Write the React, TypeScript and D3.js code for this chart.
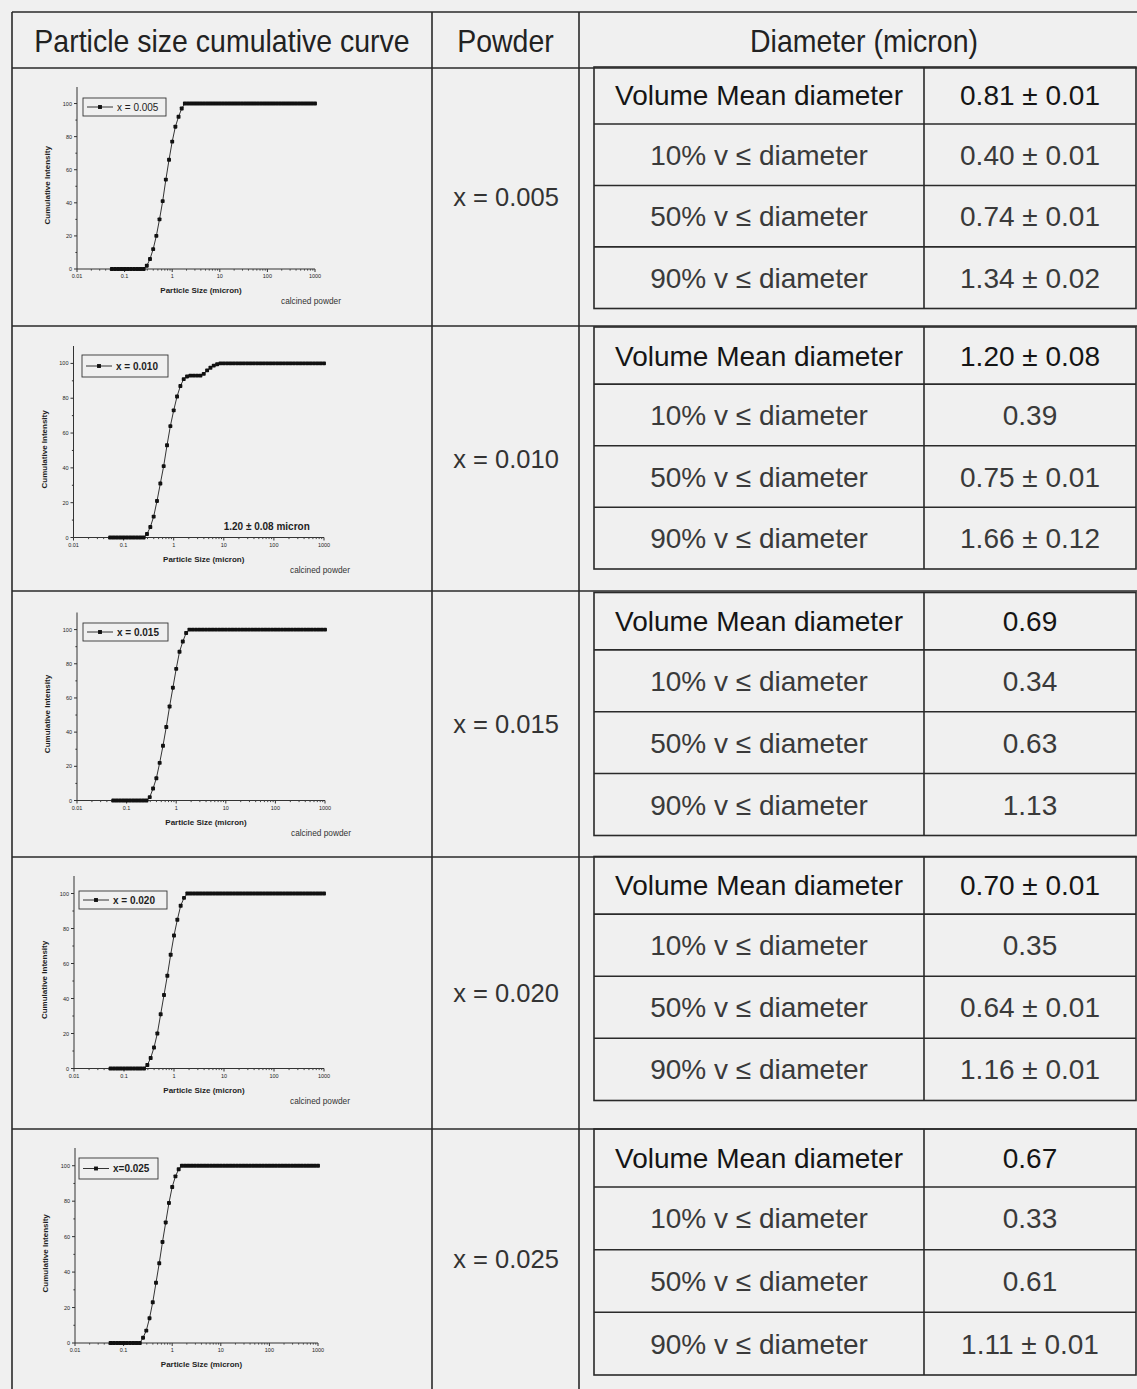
import React from "react";
import * as d3 from "d3";

const W = 1137;
const H = 1389;
const FONT = "'Liberation Sans', Arial, Helvetica, sans-serif";

// table text
const headerLabels = ["Particle size cumulative curve", "Powder", "Diameter (micron)"];
const powders = ["x = 0.005", "x = 0.010", "x = 0.015", "x = 0.020", "x = 0.025"];
const legendLabels = ["x = 0.005", "x = 0.010", "x = 0.015", "x = 0.020", "x=0.025"];
const measures = ["Volume Mean diameter", "10% v \u2264 diameter", "50% v \u2264 diameter", "90% v \u2264 diameter"];
const diam005 = ["0.81 \u00b1 0.01", "0.40 \u00b1 0.01", "0.74 \u00b1 0.01", "1.34 \u00b1 0.02"];
const diam010 = ["1.20 \u00b1 0.08", "0.39", "0.75 \u00b1 0.01", "1.66 \u00b1 0.12"];
const diam015 = ["0.69", "0.34", "0.63", "1.13"];
const diam020 = ["0.70 \u00b1 0.01", "0.35", "0.64 \u00b1 0.01", "1.16 \u00b1 0.01"];
const diam025 = ["0.67", "0.33", "0.61", "1.11 \u00b1 0.01"];

// chart ticks and labels
const xTickValues = [0.01, 0.1, 1, 10, 100, 1000];
const xTickLabels = ["0.01", "0.1", "1", "10", "100", "1000"];
const yTickValues = [0, 20, 40, 60, 80, 100];
const yMinorValues = [10, 30, 50, 70, 90];
const xTitle = "Particle Size (micron)";
const yTitle = "Cumulative Intensity";
const sampleNote = "calcined powder";
const meanNote = "1.20 \u00b1 0.08 micron";

// particle size bins (micron)
const particleSize = [
  0.0541, 0.0631, 0.0736, 0.0858, 0.1, 0.1166, 0.1359, 0.1585, 0.1848, 0.2154, 0.2512,
  0.2929, 0.3415, 0.3981, 0.4642, 0.5412, 0.631, 0.7356, 0.8577,
  1, 1.166, 1.359, 1.585, 1.848, 2.154, 2.512, 2.929, 3.415, 3.981, 4.642, 5.412, 6.31, 7.356, 8.577,
  10, 11.66, 13.59, 15.85, 18.48, 21.54, 25.12, 29.29, 34.15, 39.81, 46.42, 54.12, 63.1, 73.56, 85.77,
  100, 116.6, 135.9, 158.5, 184.8, 215.4, 251.2, 292.9, 341.5, 398.1, 464.2, 541.2, 631, 735.6, 857.7,
  1000,
];

const cum005 = [
  0, 0, 0, 0, 0, 0, 0, 0, 0, 0, 0,
  2, 6, 12, 20, 30, 41, 54, 66, 77, 86, 92, 97,
  100, 100, 100, 100, 100, 100, 100, 100, 100, 100,
  100, 100, 100, 100, 100, 100, 100, 100, 100, 100,
  100, 100, 100, 100, 100, 100, 100, 100, 100, 100,
  100, 100, 100, 100, 100, 100, 100, 100, 100, 100,
  100, 100,
];
const cum010 = [
  0, 0, 0, 0, 0, 0, 0, 0, 0, 0, 0,
  2, 6, 12, 21, 31, 41, 53, 64, 73, 81, 87, 91,
  92.5, 93, 93, 93, 93, 94, 96, 97.5, 98.7, 99.5,
  100, 100, 100, 100, 100, 100, 100, 100, 100, 100,
  100, 100, 100, 100, 100, 100, 100, 100, 100, 100,
  100, 100, 100, 100, 100, 100, 100, 100, 100, 100,
  100, 100,
];
const cum015 = [
  0, 0, 0, 0, 0, 0, 0, 0, 0, 0, 0,
  2, 7, 13, 22, 32, 43, 55, 66, 77, 87, 93, 98,
  100, 100, 100, 100, 100, 100, 100, 100, 100, 100,
  100, 100, 100, 100, 100, 100, 100, 100, 100, 100,
  100, 100, 100, 100, 100, 100, 100, 100, 100, 100,
  100, 100, 100, 100, 100, 100, 100, 100, 100, 100,
  100, 100,
];
const cum020 = [
  0, 0, 0, 0, 0, 0, 0, 0, 0, 0, 0,
  2, 6, 12, 20, 31, 42, 53, 65, 76, 85, 93, 97.5,
  100, 100, 100, 100, 100, 100, 100, 100, 100, 100,
  100, 100, 100, 100, 100, 100, 100, 100, 100, 100,
  100, 100, 100, 100, 100, 100, 100, 100, 100, 100,
  100, 100, 100, 100, 100, 100, 100, 100, 100, 100,
  100, 100,
];
const cum025 = [
  0, 0, 0, 0, 0, 0, 0, 0, 0, 0,
  3, 7, 14, 23, 34, 45, 57, 68, 79, 88, 94, 98,
  100, 100, 100, 100, 100, 100, 100, 100, 100, 100,
  100, 100, 100, 100, 100, 100, 100, 100, 100, 100,
  100, 100, 100, 100, 100, 100, 100, 100, 100, 100,
  100, 100, 100, 100, 100, 100, 100, 100, 100, 100,
  100, 100, 100,
];

const curves = [cum005, cum010, cum015, cum020, cum025];
const diameters = [diam005, diam010, diam015, diam020, diam025];

// layout of the scanned page
const colX = [12, 432, 579];
const rowY = [12, 68, 326, 591, 857, 1129];
const innerX = [594, 924, 1136];
const innerTop = [67, 327, 592.5, 856.5, 1129];
const innerH = [241.5, 242, 243, 244, 246];
const innerFrac = [0, 0.236, 0.4907, 0.745, 1];
const powderY = [197, 459, 724, 993, 1259];

// plot frames: x of 0.01 and 1000, y of 0 and 110
const frames = [
  { x0: 77, x1: 315, y0: 269, yTop: 87, legend: [83, 98, 83, 18], bold: false },
  { x0: 73.5, x1: 324, y0: 537.5, yTop: 346, legend: [82, 355, 86, 22], bold: true },
  { x0: 77, x1: 325, y0: 800.5, yTop: 612.5, legend: [83, 623, 85, 18], bold: true },
  { x0: 74, x1: 324, y0: 1068.5, yTop: 876, legend: [79, 891, 88, 18], bold: true },
  { x0: 75, x1: 318, y0: 1343, yTop: 1148, legend: [79, 1158, 79, 21], bold: true },
];

const INK = "#1e1e1e";

function Curve({ idx }: { idx: number }) {
  const f = frames[idx];
  const values = curves[idx];
  const x = d3.scaleLog().domain([0.01, 1000]).range([f.x0, f.x1]);
  const y = d3.scaleLinear().domain([0, 110]).range([f.y0, f.yTop]);
  const pts = particleSize.map((s, i) => [s, values[i]] as [number, number]);
  const line = d3.line<[number, number]>().x((d) => x(d[0])).y((d) => y(d[1]));
  const minor = x.ticks().filter((t) => !xTickValues.includes(t));
  const [lx, ly, lw, lh] = f.legend;
  const lcy = ly + lh / 2;
  const ms = 3.9;
  const midX = (f.x0 + f.x1) / 2 + 5;
  return (
    <g fontFamily={FONT} fill={INK}>
      <line x1={f.x0} x2={f.x0} y1={f.y0} y2={f.yTop} stroke="#333" strokeWidth={1} />
      <line x1={f.x0} x2={f.x1} y1={f.y0} y2={f.y0} stroke="#333" strokeWidth={1} />
      {yTickValues.map((t) => (
        <g key={"y" + t}>
          <line x1={f.x0 - 3} x2={f.x0} y1={y(t)} y2={y(t)} stroke="#333" />
          <text x={f.x0 - 5} y={y(t) + 2} fontSize={5.5} textAnchor="end">{t}</text>
        </g>
      ))}
      {yMinorValues.map((t) => (
        <line key={"ym" + t} x1={f.x0 - 1.6} x2={f.x0} y1={y(t)} y2={y(t)} stroke="#333" />
      ))}
      {xTickValues.map((t, i) => (
        <g key={"x" + t}>
          <line x1={x(t)} x2={x(t)} y1={f.y0} y2={f.y0 + 3} stroke="#333" />
          <text x={x(t)} y={f.y0 + 9} fontSize={5.5} textAnchor="middle">{xTickLabels[i]}</text>
        </g>
      ))}
      {minor.map((t) => (
        <line key={"xm" + t} x1={x(t)} x2={x(t)} y1={f.y0} y2={f.y0 + 1.6} stroke="#444" />
      ))}
      <text
        transform={`translate(${f.x0 - 27},${f.y0 - 0.46 * (f.y0 - f.yTop)}) rotate(-90)`}
        fontSize={8}
        fontWeight="bold"
        textAnchor="middle"
      >
        {yTitle}
      </text>
      <text x={midX} y={f.y0 + 24} fontSize={8} fontWeight="bold" textAnchor="middle">{xTitle}</text>
      {idx < 4 && (
        <text x={f.x1 - 34} y={f.y0 + 35} fontSize={8.3} fill="#333">{sampleNote}</text>
      )}
      {idx === 1 && (
        <text x={x(72)} y={f.y0 - 8} fontSize={10} fontWeight="bold" textAnchor="middle">{meanNote}</text>
      )}
      <path d={line(pts) || ""} fill="none" stroke={INK} strokeWidth={0.9} />
      {pts.map((d, i) => (
        <rect key={i} x={x(d[0]) - ms / 2} y={y(d[1]) - ms / 2} width={ms} height={ms} rx={0.8} fill="#111" />
      ))}
      <rect x={lx} y={ly} width={lw} height={lh} fill="none" stroke="#333" strokeWidth={0.9} />
      <line x1={lx + 4} x2={lx + 30} y1={lcy} y2={lcy} stroke={INK} strokeWidth={0.9} />
      <rect x={lx + 17 - ms / 2} y={lcy - ms / 2} width={ms} height={ms} fill="#111" />
      <text x={lx + 34} y={lcy + 3.6} fontSize={10} fontWeight={f.bold ? "bold" : "normal"}>
        {legendLabels[idx]}
      </text>
    </g>
  );
}

export default function App() {
  const lineColor = "#2a2a2a";
  const headerX = [(colX[0] + colX[1]) / 2, (colX[1] + colX[2]) / 2, 864];
  return (
    <div style={{ position: "absolute", left: 0, top: 0 }}>
      <svg width={W} height={H} viewBox={`0 0 ${W} ${H}`} style={{ display: "block" }}>
        <rect x={0} y={0} width={W} height={H} fill="#f0f0f0" />
        {rowY.map((ry) => (
          <line key={"r" + ry} x1={colX[0]} x2={W + 2} y1={ry} y2={ry} stroke={lineColor} strokeWidth={1.6} />
        ))}
        {colX.map((cx) => (
          <line key={"c" + cx} x1={cx} x2={cx} y1={rowY[0]} y2={H + 2} stroke={lineColor} strokeWidth={1.6} />
        ))}
        <g fontFamily={FONT} fontSize={28.5} fill="#222" textAnchor="middle">
          {headerLabels.map((h, i) => (
            <text key={h} transform={`translate(${headerX[i]},52) scale(1,1.12)`}>{h}</text>
          ))}
        </g>
        {powders.map((p, i) => {
          const top = innerTop[i];
          const hh = innerH[i];
          const ys = innerFrac.map((fr) => top + fr * hh);
          return (
            <g key={p}>
              <text x={506} y={powderY[i] + 9} fontFamily={FONT} fontSize={25.5} fill="#333" textAnchor="middle">{p}</text>
              <rect x={innerX[0]} y={top} width={innerX[2] - innerX[0]} height={hh} fill="none" stroke={lineColor} strokeWidth={1.6} />
              <line x1={innerX[1]} x2={innerX[1]} y1={top} y2={top + hh} stroke={lineColor} strokeWidth={1.6} />
              {ys.slice(1, 4).map((yy) => (
                <line key={yy} x1={innerX[0]} x2={innerX[2]} y1={yy} y2={yy} stroke={lineColor} strokeWidth={1.6} />
              ))}
              {measures.map((m, j) => {
                const cy = (ys[j] + ys[j + 1]) / 2;
                const col = j === 0 ? "#151515" : "#3a3a3a";
                return (
                  <g key={m} fontFamily={FONT} fontSize={28} fill={col} textAnchor="middle">
                    <text x={(innerX[0] + innerX[1]) / 2} y={cy + 10}>{m}</text>
                    <text x={(innerX[1] + innerX[2]) / 2} y={cy + 10}>{diameters[i][j]}</text>
                  </g>
                );
              })}
              <Curve idx={i} />
            </g>
          );
        })}
      </svg>
    </div>
  );
}
